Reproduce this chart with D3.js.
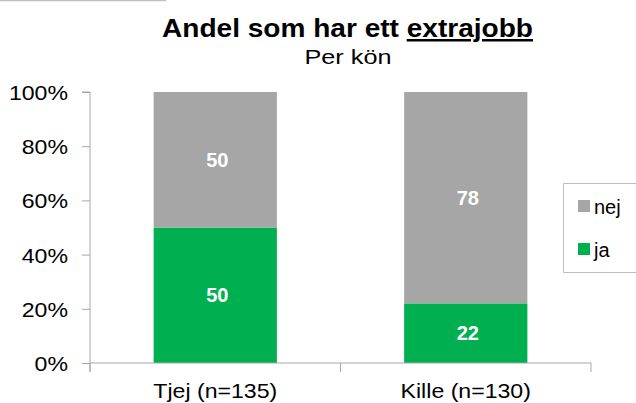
<!DOCTYPE html>
<html><head><meta charset="utf-8">
<script src="https://cdn.jsdelivr.net/npm/d3@7"></script>
<style>body{margin:0;background:#fff}svg{display:block;font-family:Arial,"Liberation Sans",sans-serif}</style>
</head><body><svg id="c" width="636" height="403"></svg>
<script>
const categories = ["Tjej (n=135)", "Kille (n=130)"];
const seriesNames = ["ja", "nej"];
const ja = [50, 22];
const nej = [50, 78];
const yTicks = [0, 20, 40, 60, 80, 100];
const colors = {ja: "#00b050", nej: "#a6a6a6"};

const svg = d3.select("#c");
const m = {l: 90, r: 591, t: 92, b: 363};
const x = d3.scaleBand().domain(categories).range([m.l, m.r]).paddingInner(0.508).paddingOuter(0.254);
const y = d3.scaleLinear().domain([0, 100]).range([m.b, m.t]);

function widen(sel, f) {
  sel.each(function () {
    const w = this.getComputedTextLength();
    d3.select(this).attr("textLength", w * f).attr("lengthAdjust", "spacingAndGlyphs");
  });
}

// top-left decorative line
svg.append("line").attr("x1", 0).attr("x2", 166).attr("y1", 0.5).attr("y2", 0.5).attr("stroke", "#bfbfbf").attr("stroke-width", 1.5);

// title
const title = svg.append("text").attr("x", 347.5).attr("y", 37).attr("text-anchor", "middle")
  .attr("font-size", 25).attr("font-weight", "bold").attr("fill", "#000")
  .attr("textLength", 371).attr("lengthAdjust", "spacingAndGlyphs");
title.append("tspan").text("Andel som har ett ");
title.append("tspan").attr("text-decoration", "underline").text("extrajobb");
svg.append("text").attr("x", 348).attr("y", 64).attr("text-anchor", "middle")
  .attr("font-size", 20).attr("fill", "#000").attr("textLength", 87).attr("lengthAdjust", "spacingAndGlyphs").text("Per kön");

// stacked bars
const data = categories.map((c, i) => ({cat: c, ja: ja[i], nej: nej[i]}));
const stack = d3.stack().keys(seriesNames)(data);
stack.forEach(s => {
  svg.append("g").selectAll("rect").data(s).join("rect")
    .attr("x", d => x(d.data.cat)).attr("width", x.bandwidth())
    .attr("y", d => y(d[1])).attr("height", d => y(d[0]) - y(d[1]))
    .attr("fill", colors[s.key]);
  svg.append("g").selectAll("text").data(s).join("text")
    .attr("x", d => x(d.data.cat) + x.bandwidth() / 2 + 2)
    .attr("y", d => (y(d[0]) + y(d[1])) / 2 + 7)
    .attr("text-anchor", "middle").attr("font-size", 20).attr("font-weight", "bold").attr("fill", "#fff")
    .text(d => d[1] - d[0]);
});

// y axis
const yAxis = d3.axisLeft(y).tickValues(yTicks).tickFormat(d => d + "%").tickSize(8).tickPadding(14);
const gy = svg.append("g").attr("transform", `translate(${m.l},0)`).call(yAxis);
gy.select(".domain").attr("stroke", "#a6a6a6").attr("d", `M-8,${m.t}H0V${m.b + 9}`);
gy.selectAll(".tick line").attr("stroke", "#a6a6a6");
gy.selectAll(".tick text").attr("font-size", 21).attr("fill", "#000").attr("font-family", "Arial, 'Liberation Sans', sans-serif").attr("dy", "0.36em");
widen(gy.selectAll(".tick text"), 1.1);

// x axis
const gx = svg.append("g").attr("transform", `translate(0,${m.b})`);
gx.append("line").attr("x1", m.l).attr("x2", m.r).attr("y1", 0).attr("y2", 0).attr("stroke", "#a6a6a6");
const boundaries = [m.l, (x(categories[0]) + x.bandwidth() + x(categories[1])) / 2, m.r];
gx.selectAll("line.t").data(boundaries).join("line").attr("class", "t")
  .attr("x1", d => d).attr("x2", d => d).attr("y1", 0).attr("y2", 9).attr("stroke", "#a6a6a6");
const xl = gx.selectAll("text").data(categories).join("text")
  .attr("x", d => x(d) + x.bandwidth() / 2).attr("y", 35).attr("text-anchor", "middle")
  .attr("font-size", 21).attr("fill", "#000").text(d => d);
widen(xl, 1.1);

// legend
const lg = svg.append("g");
lg.append("rect").attr("x", 563.5).attr("y", 183.5).attr("width", 80).attr("height", 89)
  .attr("fill", "#fff").attr("stroke", "#bfbfbf");
const legendItems = ["nej", "ja"];
legendItems.forEach((k, i) => {
  const yy = 200 + i * 43;
  lg.append("rect").attr("x", 578).attr("y", yy).attr("width", 12).attr("height", 12).attr("fill", colors[k]);
  lg.append("text").attr("x", 594).attr("y", yy + 14).attr("font-size", 20).attr("fill", "#000").text(k);
});
</script></body></html>
